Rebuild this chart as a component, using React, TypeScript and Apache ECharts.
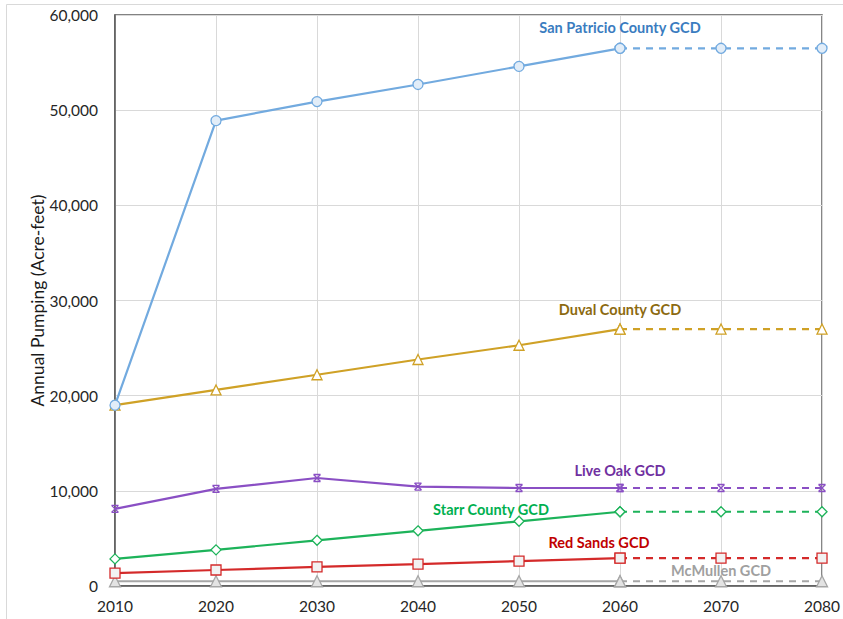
import React, { useEffect, useRef } from "react";
import * as echarts from "echarts";

const years = [2010, 2020, 2030, 2040, 2050, 2060, 2070, 2080];
const sanPatricio = [19000, 48900, 50900, 52700, 54600, 56500, 56500, 56500];
const duval = [19000, 20600, 22200, 23800, 25300, 27000, 27000, 27000];
const liveOak = [8100, 10200, 11350, 10450, 10300, 10300, 10300, 10300];
const starr = [2850, 3800, 4800, 5800, 6800, 7800, 7800, 7800];
const redSands = [1350, 1680, 2000, 2300, 2620, 2920, 2920, 2920];
const mcMullen = [500, 500, 500, 500, 500, 500, 500, 500];

const seriesDefs = [
  { name: "McMullen GCD", data: mcMullen, color: "#A6A6A6", labelColor: "#A0A0A0", symbol: "triangle", size: 11, fill: "#E3E3E3", labelIdx: 6, offset: [0, 7] },
  { name: "Red Sands GCD", data: redSands, color: "#D42A2A", labelColor: "#C00000", symbol: "rect", size: 10, fill: "#F2F2F2", labelIdx: 5, offset: [-21, 6] },
  { name: "Starr County GCD", data: starr, color: "#1DB35A", labelColor: "#00B050", symbol: "diamond", size: 10, fill: "#FFFFFF", labelIdx: 4, offset: [-28, 10] },
  { name: "Live Oak GCD", data: liveOak, color: "#8A4FC4", labelColor: "#7030A0", symbol: "path://M0,0 L10,0 M0,10 L10,10 M0,0 L10,10 M10,0 L0,10", size: 7, fill: "#8A4FC4", labelIdx: 5, offset: [0, 3] },
  { name: "Duval County GCD", data: duval, color: "#CFA126", labelColor: "#8C6A10", symbol: "triangle", size: 10, fill: "#FFFFFF", labelIdx: 5, offset: [0, 3] },
  { name: "San Patricio County GCD", data: sanPatricio, color: "#72AADF", labelColor: "#3A7CC0", symbol: "circle", size: 10, fill: "#E2EDF8", labelIdx: 5, offset: [0, 1] },
];

export default function App() {
  const ref = useRef<HTMLDivElement>(null);
  useEffect(() => {
    if (!ref.current) return;
    const chart = echarts.init(ref.current, null, { renderer: "svg" });
    const series: any[] = [];
    const mkLabel = (s: any, distance: number) => ({
      show: true,
      position: "top",
      distance,
      offset: s.offset,
      formatter: s.name,
      color: s.labelColor,
      fontWeight: "bold",
      fontSize: 14.5,
      fontFamily: "Lato",
    });
    seriesDefs.forEach((s, k) => {
      const solid = years.slice(0, 6).map((y, i) => {
        const item: any = { value: [y, s.data[i]] };
        if (i === s.labelIdx) item.label = mkLabel(s, 9);
        return item;
      });
      const dashed = years.slice(5).map((y, j) => {
        const i = j + 5;
        const item: any = { value: [y, s.data[i]] };
        if (i === s.labelIdx && i > 5) item.label = mkLabel(s, 4);
        return item;
      });
      const common = {
        type: "line",
        symbol: s.symbol,
        symbolSize: s.size,
        showAllSymbol: true,
        z: 2 + k,
        itemStyle: { color: s.fill, borderColor: s.color, borderWidth: 1.3 },
        label: { show: false },
        emphasis: { disabled: true },
      };
      series.push({
        ...common,
        name: s.name,
        data: solid,
        lineStyle: { color: s.color, width: 2.2 },
      });
      series.push({
        ...common,
        name: s.name + " (dashed)",
        data: dashed,
        lineStyle: { color: s.color, width: 2.2, type: [7, 6] },
      });
    });
    chart.setOption({
      animation: false,
      backgroundColor: "#FFFFFF",
      textStyle: { fontFamily: "Lato" },
      graphic: [
        {
          type: "rect",
          shape: { x: 6.5, y: 4.5, width: 900, height: 700 },
          style: { fill: "none", stroke: "#D9D9D9", lineWidth: 1 },
          silent: true,
          z: -10,
        },
      ],
      grid: {
        left: 115,
        right: 20.5,
        top: 15,
        bottom: 33,
        show: true,
        borderColor: "#5A5A5A",
        borderWidth: 1.5,
        backgroundColor: "transparent",
      },
      xAxis: {
        type: "value",
        min: 2010,
        max: 2080,
        interval: 10,
        axisLine: { show: true, lineStyle: { color: "#5A5A5A", width: 1.5 } },
        axisTick: { show: false },
        splitLine: { show: true, lineStyle: { color: "#D9D9D9", width: 1 } },
        axisLabel: {
          color: "#262626",
          fontSize: 15.5,
          fontFamily: "Lato",
          margin: 12,
          formatter: (v: number) => String(v),
        },
      },
      yAxis: {
        type: "value",
        min: 0,
        max: 60000,
        interval: 10000,
        name: "Annual Pumping (Acre-feet)",
        nameLocation: "middle",
        nameGap: 69,
        nameMoveOverlap: false,
        nameTextStyle: { color: "#1A1A1A", fontSize: 17.5, fontFamily: "Lato" },
        axisLine: { show: true, lineStyle: { color: "#5A5A5A", width: 1.5 } },
        axisTick: { show: false },
        splitLine: { show: true, lineStyle: { color: "#D9D9D9", width: 1 } },
        axisLabel: {
          color: "#262626",
          fontSize: 15.5,
          fontFamily: "Lato",
          margin: 17,
          formatter: (v: number) => v.toLocaleString("en-US"),
        },
      },
      series,
    });
    return () => chart.dispose();
  }, []);
  return (
    <div
      ref={ref}
      style={{ position: "absolute", left: 0, top: 0, width: 843, height: 619 }}
    />
  );
}
